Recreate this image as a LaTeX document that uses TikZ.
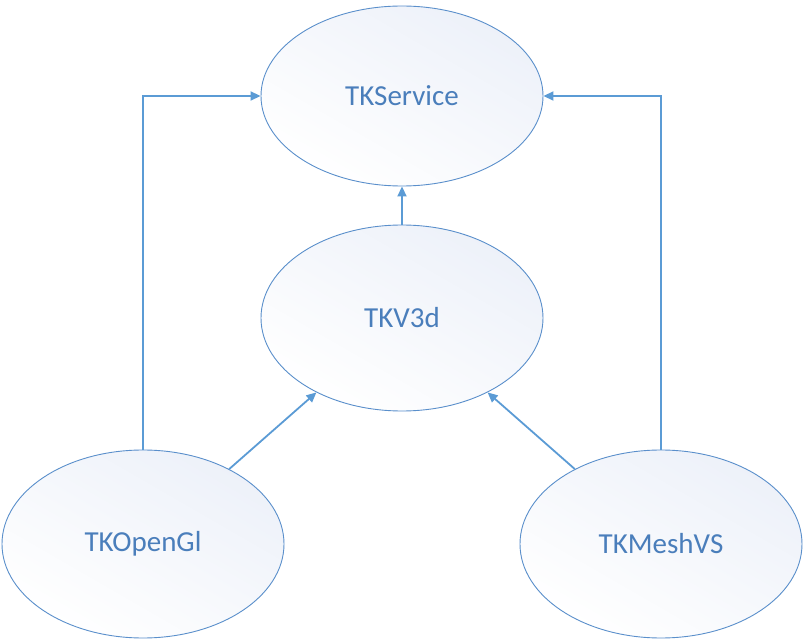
\documentclass[tikz,border=0pt]{standalone}
\usepackage{fontspec}
\setmainfont{Carlito}
\usetikzlibrary{shapes.geometric,arrows.meta}
\definecolor{edgeblue}{HTML}{5B9BD5}
\definecolor{rimblue}{HTML}{5A8FCB}
\definecolor{txtblue}{HTML}{4A7EBB}
\definecolor{fillblue}{HTML}{EDF1F9}
\tikzset{
  comp/.style={ellipse, draw=rimblue, line width=0.9pt, inner sep=0pt,
    minimum width=282pt, minimum height=186pt,
    top color=fillblue, bottom color=white, shading angle=-30,
    text=txtblue, font=\fontsize{29}{35}\selectfont},
  link/.style={draw=edgeblue, line width=1.8pt, -{Triangle[length=10pt,width=9pt]}}
}
\begin{document}
\begin{tikzpicture}[x=1pt,y=-1pt]
\useasboundingbox (0,0) rectangle (804,639);
\node[comp, minimum height=180pt] (svc) at (402,96) {TKService};
\node[comp] (v3d) at (402,318) {TKV3d};
\node[comp, minimum height=188pt] (ogl) at (143,544) {TKOpenGl};
\node[comp, minimum height=188pt] (mesh) at (661,544) {TKMeshVS};
\draw[link] (ogl.north) |- (svc.west);
\draw[link] (mesh.north) |- (svc.east);
\draw[link] (v3d.north) -- (svc.south);
\draw[link] (ogl.41) -- (v3d.221);
\draw[link] (mesh.139) -- (v3d.-41);
\end{tikzpicture}
\end{document}
